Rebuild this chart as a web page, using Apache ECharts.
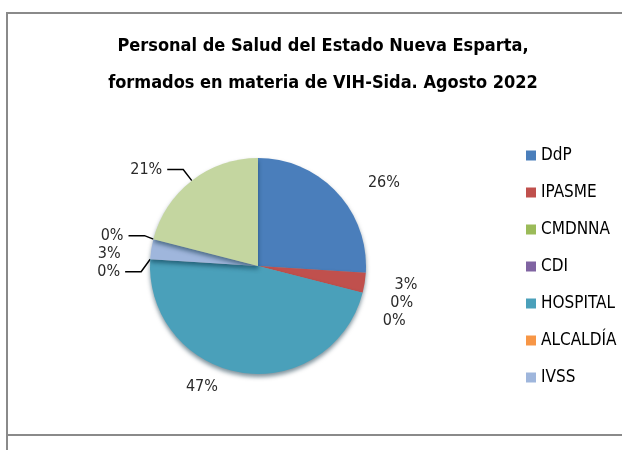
<!DOCTYPE html>
<html lang="es">

<head>
    <meta charset="UTF-8">
    <title>Personal de Salud</title>
    <script src="https://cdn.jsdelivr.net/npm/echarts@6/dist/echarts.min.js"></script>
    <style>
        * {
            margin: 0;
            padding: 0;
        }

        body {
            background: #fff;
        }

        #frame {
            position: absolute;
            left: 6px;
            top: 12px;
            width: 640px;
            height: 420px;
            border-top: 2px solid #8a8a8a;
            border-left: 2px solid #8a8a8a;
            border-bottom: 2px solid #8a8a8a;
        }

        #leftTail {
            position: absolute;
            left: 6px;
            top: 430px;
            width: 2px;
            height: 20px;
            background: #8a8a8a;
        }

        #main {
            position: absolute;
            left: 0;
            top: 0;
            width: 622px;
            height: 450px;
        }
    </style>
</head>

<body>
    <div id="frame"></div>
    <div id="leftTail"></div>
    <div id="main"></div>
    <script>
        // categorias en el orden de los sectores (sentido horario desde arriba)
        const categories = ['DdP', 'IPASME', 'CMDNNA', 'CDI', 'HOSPITAL', 'ALCALDÍA', 'IVSS', 'OTROS', 'OTROS 2']
        const percents = [26, 3, 0, 0, 47, 0, 3, 0, 21]
        const colors = ['#4a7ebb', '#c0504d', '#9bbb59', '#8064a2', '#4aa0ba', '#f79646', '#9fb6dc', '#d99694', '#c4d6a0']
        // solo estas aparecen en la leyenda
        const legendNames = ['DdP', 'IPASME', 'CMDNNA', 'CDI', 'HOSPITAL', 'ALCALDÍA', 'IVSS']
        // sectores cuya etiqueta va sin linea guia
        const noLine = ['DdP', 'IPASME', 'CMDNNA', 'CDI', 'HOSPITAL', 'IVSS']

        const chart = echarts.init(document.querySelector('#main'))

        const font = '"DejaVu Sans Condensed", "DejaVu Sans", sans-serif'

        const option = {
            color: colors,
            title: {
                text: 'Personal de Salud del Estado Nueva Esparta,\nformados en materia de VIH-Sida. Agosto 2022',
                left: 318,
                top: 23,
                textAlign: 'center',
                textStyle: {
                    fontFamily: font,
                    fontSize: 18,
                    fontWeight: 'bold',
                    color: '#000',
                    lineHeight: 37
                }
            },
            legend: {
                data: legendNames,
                orient: 'vertical',
                left: 521,
                top: 142,
                itemWidth: 10,
                itemHeight: 10,
                itemGap: 20,
                icon: 'rect',
                textStyle: {
                    fontFamily: font,
                    fontSize: 17,
                    color: '#000'
                }
            },
            series: [{
                type: 'pie',
                center: [258, 266],
                radius: 108,
                startAngle: 90,
                clockwise: true,
                avoidLabelOverlap: true,
                label: {
                    position: 'outside',
                    fontFamily: font,
                    fontSize: 16,
                    color: '#2a2a2a',
                    formatter: p => Math.round(p.percent) + '%'
                },
                labelLine: {
                    length: 14,
                    length2: 16,
                    lineStyle: { color: '#000', width: 1.5 }
                },
                itemStyle: {
                    shadowColor: 'rgba(0,40,60,0.5)',
                    shadowBlur: 4,
                    shadowOffsetY: 3
                },
                emphasis: { disabled: true },
                data: categories.map((c, i) => ({
                    name: c,
                    value: percents[i],
                    labelLine: { show: !noLine.includes(c) }
                }))
            }]
        }

        chart.setOption(option)
    </script>
</body>

</html>
